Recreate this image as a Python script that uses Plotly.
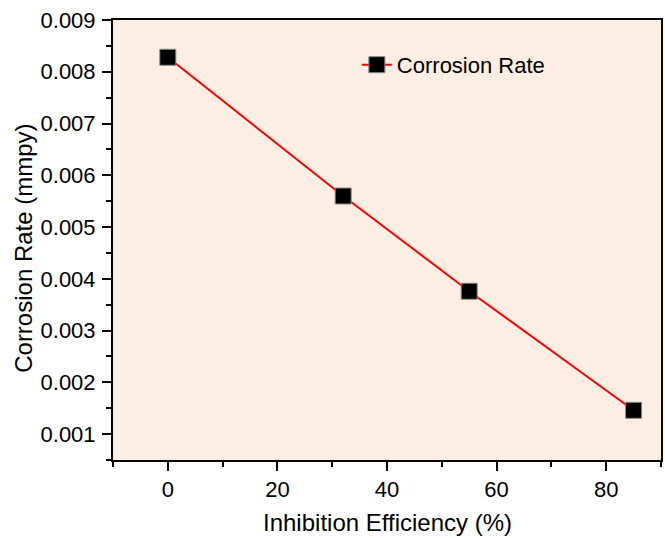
import plotly.graph_objects as go

inhibition_efficiency = [0, 32, 55, 85]
corrosion_rate = [0.00828, 0.00560, 0.00376, 0.00146]
series_name = "Corrosion Rate"
x_title = "Inhibition Efficiency (%)"
y_title = "Corrosion Rate (mmpy)"
x_ticks = [0, 20, 40, 60, 80]
y_ticks = [0.001, 0.002, 0.003, 0.004, 0.005, 0.006, 0.007, 0.008, 0.009]

FONT = "Arial, Liberation Sans"

fig = go.Figure()
fig.add_trace(go.Scatter(
    x=inhibition_efficiency, y=corrosion_rate, mode="lines+markers",
    name=series_name,
    line=dict(color="#FF0000", width=2),
    marker=dict(symbol="square", size=16, color="black",
                line=dict(color="#888888", width=1)),
))

axis_common = dict(
    showline=True, linecolor="black", linewidth=2, mirror=True,
    ticks="outside", ticklen=9, tickwidth=2, tickcolor="black",
    showgrid=False, zeroline=False, automargin=False,
    tickfont=dict(family=FONT, size=22, color="black"),
)

fig.update_xaxes(
    range=[-10, 90], tickvals=x_ticks,
    minor=dict(ticks="outside", ticklen=5, tickwidth=2, tickcolor="black", dtick=10, tick0=0),
    **axis_common,
)
fig.update_yaxes(
    range=[0.0005, 0.009], tickvals=y_ticks,
    tickformat=".3f", ticklabelstandoff=2,
    minor=dict(ticks="outside", ticklen=5, tickwidth=2, tickcolor="black", dtick=0.0005, tick0=0.0005),
    **axis_common,
)

fig.add_annotation(text=x_title, xref="paper", yref="paper", x=0.5, y=0,
                   xanchor="center", yanchor="middle", yshift=-62, showarrow=False,
                   font=dict(family=FONT, size=24, color="black"))
fig.add_annotation(text=y_title, xref="paper", yref="paper", x=0, y=0.48,
                   xanchor="center", yanchor="middle", xshift=-89, textangle=-90,
                   showarrow=False, font=dict(family=FONT, size=24, color="black"))

fig.update_layout(
    width=665, height=538,
    margin=dict(l=113, r=4, t=20, b=78),
    paper_bgcolor="white", plot_bgcolor="#FCEEE3",
    showlegend=True,
    legend=dict(x=0.445, y=0.898, xanchor="left", yanchor="middle",
                bgcolor="rgba(0,0,0,0)",
                font=dict(family=FONT, size=22, color="black")),
)

fig.write_html("out.html", config={"displayModeBar": False},
               post_script="document.body.style.margin='0';document.body.style.overflow='hidden';")
